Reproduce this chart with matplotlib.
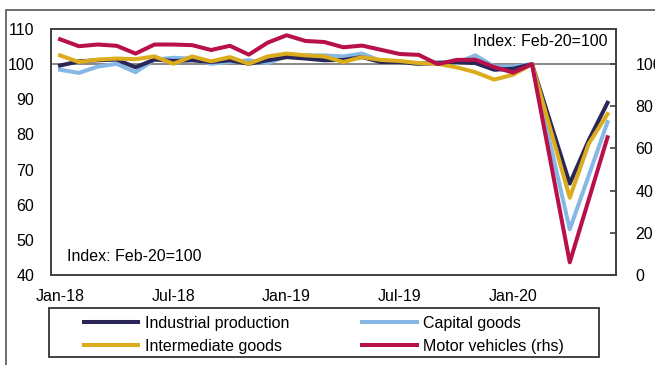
import numpy as np
import matplotlib.pyplot as plt
from matplotlib.patches import Rectangle

plt.rcParams['font.family'] = ['Liberation Sans', 'DejaVu Sans']

# monthly data, Jan-18 .. Jun-20 (Feb-20 = 100)
months = ['Jan-18', 'Feb-18', 'Mar-18', 'Apr-18', 'May-18', 'Jun-18', 'Jul-18', 'Aug-18',
          'Sep-18', 'Oct-18', 'Nov-18', 'Dec-18', 'Jan-19', 'Feb-19', 'Mar-19', 'Apr-19',
          'May-19', 'Jun-19', 'Jul-19', 'Aug-19', 'Sep-19', 'Oct-19', 'Nov-19', 'Dec-19',
          'Jan-20', 'Feb-20', 'Mar-20', 'Apr-20', 'May-20', 'Jun-20']
industrial = [99.6, 100.8, 101.1, 101.3, 99.1, 101.3, 100.9, 101.1, 100.6, 101.1, 100.1, 101.1,
              102.0, 101.6, 101.1, 101.2, 102.0, 100.6, 100.6, 100.1, 100.3, 100.6, 100.3, 98.4,
              98.7, 100.0, 83.0, 66.0, 78.3, 89.0]
capital = [98.4, 97.5, 99.3, 100.1, 97.7, 101.3, 101.8, 101.6, 100.1, 100.6, 101.1, 100.3,
           102.2, 102.5, 102.5, 102.2, 103.0, 100.9, 100.6, 100.1, 100.6, 100.3, 102.5, 99.3,
           99.3, 100.0, 76.5, 53.0, 68.2, 83.5]
intermediate = [102.5, 100.6, 101.3, 101.6, 101.4, 102.2, 100.1, 102.2, 100.8, 102.0, 100.1, 102.2,
                103.0, 102.5, 102.2, 100.6, 102.0, 101.2, 100.9, 100.3, 100.1, 99.1, 97.7, 95.6,
                97.0, 100.0, 81.0, 62.0, 77.3, 85.8]
motor = [111.8, 108.5, 109.3, 108.7, 105.0, 109.3, 109.3, 109.0, 106.7, 108.7, 104.5, 110.2,
         113.7, 111.0, 110.5, 108.0, 108.8, 106.8, 104.8, 104.4, 100.0, 102.0, 102.1, 98.6,
         96.0, 100.0, 53.0, 6.0, 35.6, 65.3]
tick_labels = ['Jan-18', 'Jul-18', 'Jan-19', 'Jul-19', 'Jan-20']

c_ip = '#2a2758'
c_cap = '#86b8e6'
c_int = '#dbad1c'
c_mv = '#b8104a'
fs = 11.5

x = np.arange(len(months))

fig = plt.figure(figsize=(6.55, 3.65), dpi=100)
ax = fig.add_axes([51 / 655, 90 / 365, 565 / 655, 246 / 365])
ax2 = ax.twinx()

ax.axhline(100, color='#888888', lw=1.4, zorder=1)
l1, = ax.plot(x, industrial, color=c_ip, lw=2.9, label='Industrial production', zorder=3)
l2, = ax.plot(x, capital, color=c_cap, lw=2.9, label='Capital goods', zorder=2)
l3, = ax.plot(x, intermediate, color=c_int, lw=2.9, label='Intermediate goods', zorder=4)
l4, = ax2.plot(x, motor, color=c_mv, lw=2.9, label='Motor vehicles (rhs)')

ax.set_xlim(-0.48, 29.45)
ax.set_ylim(40, 110)
ax2.set_ylim(0, 350 / 3)
ax.set_yticks(range(40, 111, 10))
ax2.set_yticks(range(0, 101, 20))
ax.set_xticks([months.index(t) for t in tick_labels])
ax.set_xticklabels(tick_labels)

for a in (ax, ax2):
    for s in a.spines.values():
        s.set_color('#404040')
        s.set_linewidth(1.2)
ax.tick_params(axis='y', length=0, pad=12, labelsize=fs)
ax.tick_params(axis='x', length=0, pad=10, labelsize=fs)
ax2.tick_params(axis='y', direction='in', length=4, width=1.2, color='#404040', pad=14, labelsize=fs)

ax.text(0.985, 0.95, 'Index: Feb-20=100', transform=ax.transAxes, ha='right', va='center', fontsize=fs)
ax.text(0.028, 0.075, 'Index: Feb-20=100', transform=ax.transAxes, ha='left', va='center', fontsize=fs)

# legend (filled column-wise, so order gives rows: IP / Capital, Intermediate / Motor)
fig.legend(handles=[l1, l3, l2, l4], ncol=2, frameon=False, fontsize=fs,
           loc='center', bbox_to_anchor=(324 / 655, 1 - 335 / 365),
           handlelength=3.4, handletextpad=0.4, columnspacing=4.6, labelspacing=0.5)
fig.add_artist(Rectangle((49 / 655, 1 - 357 / 365), 550 / 655, 49 / 365, transform=fig.transFigure,
                         fill=False, ec='#222222', lw=1.2))

# outer frame of the exhibit
fig.add_artist(Rectangle((6 / 655, -0.1), 1.0, (365 - 10) / 365 + 0.1, transform=fig.transFigure,
                         fill=False, ec='#555555', lw=1.2, clip_on=False))

fig.savefig('out.png', dpi=100)
